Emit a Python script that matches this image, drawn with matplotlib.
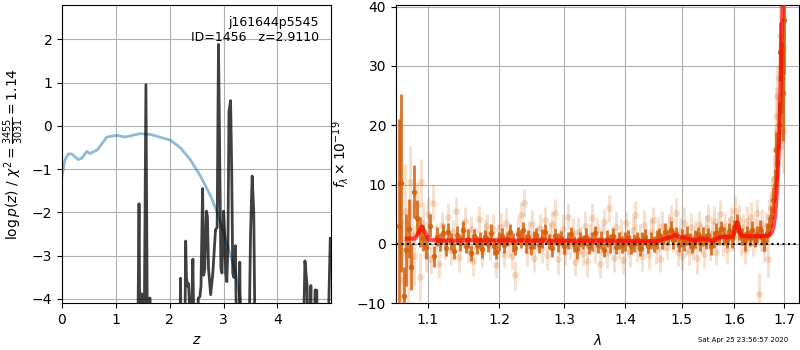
import matplotlib
matplotlib.use("Agg")
import matplotlib.pyplot as plt
from matplotlib.ticker import NullLocator, FixedLocator, FixedFormatter

# ---------------- left panel data ----------------
z_prior = [0.0, 0.056, 0.118, 0.18, 0.30, 0.367, 0.46, 0.52, 0.65, 0.71, 0.83, 1.02,
           1.17, 1.45, 1.64, 2.01, 2.20, 2.38, 2.57, 2.76, 2.88, 3.00, 3.13, 3.22,
           3.31, 3.36]
logp_prior = [-1.16, -0.78, -0.65, -0.65, -0.78, -0.75, -0.59, -0.64, -0.56, -0.47,
              -0.26, -0.22, -0.26, -0.18, -0.2, -0.33, -0.51, -0.78, -1.16, -1.62,
              -2.0, -2.46, -3.0, -3.39, -4.0, -4.5]

z_grid = [1.40, 1.43, 1.45, 1.465, 1.48, 1.50, 1.52, 1.558, 1.59, 1.62, 1.635, 1.65,
          2.18, 2.20, 2.22, 2.28, 2.296, 2.31, 2.33, 2.35, 2.37, 2.40, 2.43, 2.45,
          2.50, 2.53, 2.56, 2.58, 2.61, 2.63, 2.65, 2.68, 2.70, 2.72, 2.76, 2.80,
          2.85, 2.88, 2.905, 2.93, 2.95, 2.97, 3.00, 3.02, 3.04, 3.06, 3.08, 3.10,
          3.13, 3.15, 3.17, 3.19, 3.22, 3.24, 3.28, 3.30, 3.32, 3.45, 3.50, 3.53,
          3.56, 3.60, 4.45, 4.51, 4.55, 4.58, 4.62, 4.64, 4.70, 4.73, 4.75, 4.90,
          4.98]
logp_z = [-6.0, -1.8, -6.0, -4.5, -3.88, -3.9, -6.0, 0.95, -6.0, -3.98, -3.98, -6.0,
          -6.0, -3.52, -6.0, -5.0, -2.66, -3.5, -3.7, -3.65, -4.3, -4.5, -3.08, -5.0,
          -6.0, -3.98, -3.95, -3.7, -1.45, -3.45, -3.3, -1.97, -2.1, -3.3, -3.9, -3.4,
          -2.4, -2.35, 1.88, -1.0, -3.3, -3.4, -1.97, -2.5, -3.4, -3.6, -2.8, 0.33,
          0.58, -1.0, -3.4, -3.5, -2.77, -5.0, -6.0, -3.15, -6.0, -7.0, -2.5, -1.16,
          -2.0, -7.0, -7.0, -3.12, -3.7, -6.0, -3.69, -6.0, -3.79, -3.8, -7.0, -7.0,
          -2.6]

# ---------------- right panel data ----------------
lam_a = [1.062, 1.065, 1.068, 1.071, 1.075, 1.078, 1.082, 1.085, 1.089, 1.093, 1.097,
         1.103, 1.108, 1.112, 1.116, 1.120, 1.124, 1.128, 1.132, 1.136, 1.140, 1.144,
         1.148, 1.152, 1.156, 1.160, 1.164, 1.168, 1.172, 1.176, 1.180, 1.184, 1.188,
         1.192, 1.196, 1.200, 1.204, 1.208, 1.212, 1.216, 1.220, 1.224, 1.228, 1.232,
         1.236, 1.240, 1.244, 1.248, 1.252, 1.256, 1.260, 1.265, 1.270, 1.275, 1.280,
         1.285, 1.290, 1.295, 1.300, 1.305, 1.310, 1.315, 1.320, 1.325, 1.330, 1.335,
         1.340, 1.345, 1.350, 1.355, 1.360, 1.365, 1.370, 1.375, 1.380, 1.385, 1.390,
         1.395, 1.400, 1.405, 1.410, 1.415, 1.420, 1.425, 1.430, 1.435, 1.440, 1.445,
         1.450, 1.455, 1.460, 1.465, 1.470, 1.475, 1.480, 1.485, 1.490, 1.495, 1.500,
         1.505, 1.510, 1.515, 1.520, 1.525, 1.530, 1.535, 1.540, 1.545, 1.550, 1.555,
         1.560, 1.565, 1.570, 1.575, 1.580, 1.585, 1.590, 1.595, 1.600, 1.605, 1.610,
         1.615, 1.620, 1.625, 1.630, 1.635, 1.640, 1.645, 1.650, 1.655, 1.660, 1.665,
         1.670, 1.674, 1.678, 1.681, 1.683, 1.686, 1.689, 1.692, 1.695, 1.699, 1.701]
flux_a = [3.0, 10.2, -8.8, -1.0, 2.6, -3.8, 8.8, 4.4, 2.0, 1.0, -0.5,
          3.1, -2.1, 1.2, 0.3, 1.8, -0.6, 2.1, 0.4, -1.2, 1.5, 0.2,
          2.4, -0.3, 0.9, -1.5, 1.3, -0.2, 0.6, -0.8, 1.1, 0.0, 1.8,
          -0.4, -1.3, 0.5, 1.4, -0.1, 0.8, 2.0, 0.3, -0.6, 1.6, 0.9,
          2.3, 0.1, 1.2, -0.5, 0.7, 1.5, -0.2, 0.9, 2.1, 0.4, -0.7,
          1.3, 0.2, 1.0, -0.4, 0.6, 1.6, 0.0, -0.9, 0.8, 0.3, 1.2,
          -0.3, 0.5, 1.9, -0.2, 0.7, -1.0, 0.9, 0.1, 1.4, -0.5, 0.6,
          -0.1, 0.4, 1.1, -0.4, 0.2, 0.9, -0.7, 0.5, 1.2, -0.3, 0.6,
          0.0, 0.8, 1.5, 0.4, 2.0, 1.1, 2.4, 0.7, 1.6, -0.2, 1.0,
          0.3, 1.4, 0.6, -0.3, 0.9, 1.7, 0.2, 1.2, 0.5, 1.5, -0.4,
          0.8, 1.9, 1.1, 2.6, 1.4, 0.6, 2.2, 1.0, 2.8, 3.5, 2.0,
          1.3, 0.5, 1.8, 1.0, 2.3, 0.7, 1.6, 2.5, 1.2, 0.4, 1.9,
          3.0, 4.6, 7.4, 10.0, 15.8, 13.6, 20.0, 32.4, 28.0, 25.4, 37.7]
err_a = [18.0, 15.0, 5.0, 6.0, 5.0, 4.0, 4.5, 3.0, 2.5, 2.2, 2.0,
         1.9, 1.7, 1.6, 1.5, 1.5, 1.4, 1.5, 1.4, 1.4, 1.5, 1.3,
         1.5, 1.3, 1.6, 1.3, 1.2, 1.5, 1.4, 1.6, 1.2, 1.3, 1.5,
         1.4, 1.2, 1.6, 1.3, 1.5, 1.2, 1.4, 1.6, 1.3, 1.2, 1.5,
         1.4, 1.6, 1.2, 1.3, 1.5, 1.2, 1.4, 1.6, 1.3, 1.2, 1.5,
         1.4, 1.6, 1.2, 1.3, 1.5, 1.2, 1.4, 1.6, 1.3, 1.2, 1.5,
         1.4, 1.6, 1.2, 1.3, 1.5, 1.2, 1.4, 1.6, 1.3, 1.2, 1.5,
         1.4, 1.6, 1.2, 1.3, 1.5, 1.2, 1.4, 1.6, 1.3, 1.2, 1.5,
         1.4, 1.6, 1.2, 1.3, 1.5, 1.2, 1.4, 1.6, 1.3, 1.2, 1.5,
         1.4, 1.6, 1.2, 1.3, 1.5, 1.2, 1.4, 1.6, 1.3, 1.2, 1.5,
         1.4, 1.6, 1.2, 1.3, 1.5, 1.2, 1.4, 1.6, 1.3, 1.5, 1.4,
         1.4, 1.6, 1.2, 1.3, 1.5, 1.2, 1.4, 1.6, 1.3, 1.5, 1.6,
         1.6, 1.8, 2.2, 2.6, 3.0, 3.0, 4.0, 5.0, 6.0, 8.0, 9.0]

lam_b = [1.063, 1.066, 1.070, 1.073, 1.076, 1.079, 1.082, 1.086, 1.089, 1.091, 1.094,
         1.097, 1.100, 1.104, 1.107, 1.111, 1.115, 1.119, 1.123, 1.127, 1.131, 1.135,
         1.139, 1.143, 1.147, 1.151, 1.155, 1.159, 1.163, 1.167, 1.171, 1.175, 1.179,
         1.183, 1.187, 1.191, 1.195, 1.199, 1.203, 1.207, 1.211, 1.215, 1.219, 1.224,
         1.228, 1.233, 1.237, 1.241, 1.245, 1.249, 1.253, 1.257, 1.261, 1.265, 1.269,
         1.273, 1.277, 1.281, 1.285, 1.289, 1.293, 1.297, 1.301, 1.305, 1.309, 1.313,
         1.317, 1.321, 1.325, 1.329, 1.333, 1.337, 1.341, 1.345, 1.349, 1.353, 1.357,
         1.361, 1.365, 1.369, 1.373, 1.377, 1.381, 1.385, 1.389, 1.393, 1.397, 1.401,
         1.405, 1.409, 1.413, 1.417, 1.421, 1.425, 1.429, 1.433, 1.437, 1.441, 1.445,
         1.449, 1.453, 1.457, 1.461, 1.465, 1.469, 1.473, 1.477, 1.481, 1.485, 1.489,
         1.493, 1.497, 1.501, 1.505, 1.509, 1.513, 1.517, 1.521, 1.525, 1.529, 1.533,
         1.537, 1.541, 1.545, 1.549, 1.553, 1.557, 1.561, 1.565, 1.569, 1.573, 1.577,
         1.581, 1.585, 1.589, 1.593, 1.597, 1.601, 1.605, 1.609, 1.613, 1.617, 1.621,
         1.625, 1.629, 1.633, 1.637, 1.641, 1.645, 1.648, 1.652, 1.656, 1.660, 1.664,
         1.667, 1.670, 1.673, 1.676, 1.679, 1.682, 1.684, 1.686, 1.688, 1.690, 1.692,
         1.694, 1.696, 1.698, 1.700]
flux_b = [10.3, -6.0, 5.5, -3.0, 10.5, 1.5, -2.0, 6.5, -5.5, 10.4, 3.5,
          -1.8, 5.0, -2.5, 6.9, 1.0, -3.3, 3.2, 0.0, 4.5, -1.0, 2.0,
          5.5, -2.2, 1.5, 3.8, -0.8, 2.6, -2.8, 0.5, 4.2, -1.4, 1.9,
          3.0, -0.3, 2.4, -3.5, 0.8, 2.9, -1.7, 3.6, 0.4, -2.0, -5.3,
          2.2, 4.9, 6.9, -1.1, 1.6, 3.3, -2.4, 0.9, 2.7, -0.6, 4.0,
          -1.9, 1.2, 3.4, 5.2, -2.6, 0.3, 2.5, -1.3, 4.6, -0.2, 1.8,
          -3.0, 2.1, 0.6, -1.6, 3.1, -2.9, 1.4, 4.4, -0.9, 2.3, -3.4,
          0.7, 3.7, -1.5, 6.0, 1.0, -2.3, 2.8, -0.4, 1.7, -2.7, 3.5,
          0.2, -1.2, 2.4, 4.8, -0.7, 1.3, -2.1, 3.2, 0.5, -1.8, 2.0,
          4.1, -1.0, 1.9, -2.5, 3.0, 1.1, -0.5, 2.6, 4.0, 0.8, 5.3,
          -1.4, 2.2, -2.0, 3.6, 0.4, -1.1, 2.9, -0.6, 1.5, -2.4, 3.3,
          0.9, -1.7, 2.7, 4.4, -0.3, 1.6, 3.9, -1.3, 2.4, 5.0, 0.6,
          3.1, -0.9, 2.0, 4.2, 1.2, 5.5, 2.6, 4.0, 0.3, 2.9, -1.0,
          3.8, 1.5, 4.6, 0.2, 2.3, 5.2, -8.4, 1.1, 3.4, -0.8, 2.8,
          -2.5, 4.5, 6.0, 8.0, 11.0, 16.0, 21.5, 25.0, 19.0, 28.0, 35.0,
          30.0, 24.0, 19.0, 33.0]
err_b = [12.0, 10.0, 8.0, 7.0, 6.0, 6.0, 5.0, 4.0, 4.0, 4.0, 3.5,
         3.0, 3.0, 2.5, 3.0, 2.5, 2.5, 2.2, 2.6, 2.3, 2.5, 2.1,
         2.4, 2.6, 2.2, 2.5, 2.3, 2.1, 2.6, 2.4, 2.2, 2.5, 2.3,
         2.1, 2.4, 2.6, 2.2, 2.5, 2.3, 2.1, 2.4, 2.6, 2.2, 2.5,
         2.3, 2.1, 2.4, 2.6, 2.2, 2.5, 2.3, 2.1, 2.4, 2.6, 2.2,
         2.5, 2.3, 2.1, 2.4, 2.6, 2.2, 2.5, 2.3, 2.1, 2.4, 2.6,
         2.2, 2.5, 2.3, 2.1, 2.4, 2.6, 2.2, 2.5, 2.3, 2.1, 2.4,
         2.6, 2.2, 2.5, 2.3, 2.1, 2.4, 2.6, 2.2, 2.5, 2.3, 2.1,
         2.4, 2.6, 2.2, 2.5, 2.3, 2.1, 2.4, 2.6, 2.2, 2.5, 2.3,
         2.1, 2.4, 2.6, 2.2, 2.5, 2.3, 2.1, 2.4, 2.6, 2.2, 2.5,
         2.3, 2.1, 2.4, 2.6, 2.2, 2.5, 2.3, 2.1, 2.4, 2.6, 2.2,
         2.5, 2.3, 2.1, 2.4, 2.6, 2.2, 2.5, 2.3, 2.1, 2.4, 2.6,
         2.2, 2.5, 2.3, 2.1, 2.4, 2.6, 2.2, 2.5, 2.3, 2.1, 2.4,
         2.6, 2.2, 2.5, 2.3, 2.1, 2.4, 3.5, 2.2, 2.5, 2.3, 2.6,
         3.0, 3.0, 3.0, 3.5, 4.0, 4.0, 5.0, 5.0, 6.0, 6.0, 6.0,
         7.0, 8.0, 7.0, 8.0]

lam_model = [1.072, 1.083, 1.087, 1.092, 1.097, 1.101, 1.110, 1.200, 1.300, 1.400,
             1.455, 1.470, 1.482, 1.488, 1.495, 1.502, 1.515, 1.522, 1.526, 1.532,
             1.540, 1.550, 1.558, 1.566, 1.575, 1.590, 1.598, 1.601, 1.605, 1.609,
             1.614, 1.620, 1.640, 1.668, 1.674, 1.678, 1.682, 1.685, 1.688, 1.691,
             1.694, 1.697, 1.700]
flux_model = [0.9, 0.9, 1.8, 2.96, 1.8, 0.72, 0.6, 0.6, 0.55, 0.55,
              0.45, 0.9, 1.2, 1.5, 1.2, 1.1, 0.8, 0.7, 0.35, 0.9,
              0.8, 0.8, 0.35, 0.9, 1.2, 1.2, 1.3, 2.5, 3.6, 2.6,
              1.4, 1.3, 1.3, 1.35, 1.8, 2.8, 5.0, 8.5, 13.5, 19.5,
              30.0, 40.0, 48.0]

lam_ticks = [1.1, 1.2, 1.3, 1.4, 1.5, 1.6, 1.7]
lam_tick_labels = ['1.1', '1.2', '1.3', '1.4', '1.5', '1.6', '1.7']

# ---------------- figure ----------------
fig = plt.figure(figsize=(8, 3.5), dpi=100)
ax1 = fig.add_axes([0.0775, 0.1334, 0.336, 0.851])
ax2 = fig.add_axes([0.495, 0.1334, 0.5034, 0.851])

ax1.plot(z_prior, logp_prior, color='#1f77b4', alpha=0.5, lw=2)
ax1.plot(z_grid, logp_z, color='k', alpha=0.75, lw=2)
ax1.set_xlim(0, 4.99)
ax1.set_ylim(-4.1, 2.78)
ax1.set_xlabel(r'$z$')
ax1.set_ylabel(r'$\log p(z)$ / $\chi^2=\frac{3455}{3031}=1.14$')
ax1.grid(True)
ax1.text(0.955, 0.965, 'j161644p5545\nID=1456   z=2.9110', transform=ax1.transAxes,
         ha='right', va='top', fontsize=9)

orange = '#d35f0a'
ax2.errorbar(lam_b, flux_b, yerr=err_b, fmt='o', color=orange, alpha=0.2,
             ms=5, elinewidth=2, mec='none', zorder=2)
ax2.errorbar(lam_a, flux_a, yerr=err_a, fmt='o', color=orange, alpha=0.85,
             ms=4, elinewidth=2, mec='none', zorder=3)
ax2.plot(lam_model, flux_model, color='r', alpha=0.7, lw=3, zorder=5)
ax2.axhline(0, color='k', ls=':', lw=1.5, zorder=6)
ax2.set_xscale('log')
ax2.xaxis.set_major_locator(FixedLocator(lam_ticks))
ax2.xaxis.set_major_formatter(FixedFormatter(lam_tick_labels))
ax2.xaxis.set_minor_locator(NullLocator())
ax2.set_xlim(1.058, 1.731)
ax2.set_ylim(-10, 40.2)
ax2.set_xlabel(r'$\lambda$')
ax2.set_ylabel(r'$f_\lambda\times10^{-19}$')
ax2.grid(True)

fig.text(0.985, 0.029, 'Sat Apr 25 23:56:57 2020', ha='right', va='center', fontsize=5)

fig.savefig('out.png', dpi=100)
